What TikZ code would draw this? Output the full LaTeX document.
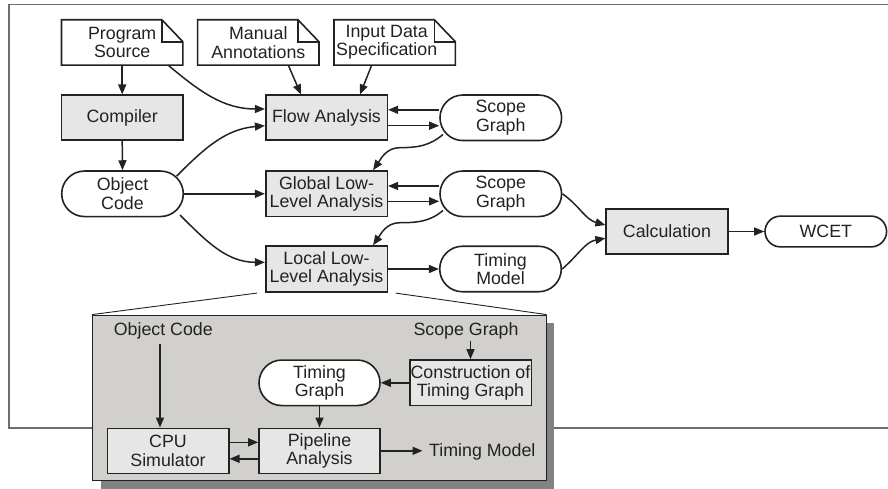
\documentclass[tikz,border=0pt]{standalone}
\usepackage{fontspec}
\setmainfont{Liberation Sans}
\usetikzlibrary{arrows.meta,calc,shapes.misc}
\definecolor{boxgray}{HTML}{E6E6E6}
\definecolor{panelgray}{HTML}{D2D0CC}
\definecolor{shadowgray}{HTML}{828282}
\definecolor{framegray}{HTML}{6E6E6E}
\definecolor{ink}{HTML}{222222}
\newcommand{\foldshape}[1]{%
  \draw[docline] (#1.north west) -- ($(#1.north east)+(-21,0)$) -- ($(#1.north east)+(0,22)$) -- (#1.south east) -- (#1.south west) -- cycle;
  \draw[docline] ($(#1.north east)+(-21,0)$) -- ($(#1.north east)+(-21,22)$) -- ($(#1.north east)+(0,22)$);}
\begin{document}
\begin{tikzpicture}[x=1pt,y=-1pt,
  font=\fontsize{17.8}{18.4}\selectfont,
  every node/.style={align=center, inner sep=0pt, text=ink},
  procbox/.style={draw=ink, line width=1.6pt, fill=boxgray, minimum width=121.6pt, minimum height=45pt},
  pill/.style={rounded rectangle, draw=ink, line width=1.6pt, fill=white, minimum width=121.6pt, minimum height=45.5pt},
  docbox/.style={minimum width=121pt, minimum height=45pt},
  docline/.style={draw=ink, line width=1.6pt, line join=miter},
  arr/.style={-{Triangle[length=10pt,width=8pt]}, line width=1.5pt, draw=ink},
  zoomline/.style={line width=0.9pt, draw=ink}
]
\useasboundingbox (0,0) rectangle (888,489);

% outer frame
\draw[framegray, line width=1.6pt] (888,4.5) -- (9,4.5) -- (9,428) -- (888,428);

% documents
\node[docbox] (ps) at (122.2,42.5) {Program\\Source};
\node[docbox] (ma) at (258.3,42.5) {Manual\\Annotations};
\node[docbox] (id) at (394.7,42.5) {};
\node (idtext) at (386.7,42.5) {Input Data\\Specification};
\foldshape{ps}
\foldshape{ma}
\foldshape{id}

% main nodes
\node[procbox] (comp) at (122.2,117.8) {Compiler};
\node[pill] (obj) at (122.5,193.8) {Object\\Code};
\node[procbox] (flow) at (326.5,117.8) {Flow Analysis};
\node[procbox, minimum height=45.7pt] (glob) at (326.5,193.8) {Global Low-\\Level Analysis};
\node[procbox, minimum height=46pt] (loc) at (326.5,269) {Local Low-\\Level Analysis};
\node[pill] (sg1) at (500.8,117.8) {Scope\\Graph};
\node[pill] (sg2) at (500.8,193.8) {Scope\\Graph};
\node[pill] (tm) at (500.5,269) {Timing\\Model};
\node[procbox] (calc) at (667,231.5) {Calculation};
\node[pill, minimum height=30.7pt] (wcet) at (825.8,231.5) {WCET};

% top connectors
\draw[arr] (ps.south) -- (comp.north);
\draw[arr] (comp.south) -- (obj.north);
\draw[arr] ($(ps.south)+(46,0)$) to[out=-40,in=180] ($(flow.west)+(0,-8.8)$);
\draw[arr] ($(ma.south)+(30,0)$) -- ($(flow.north)+(-25.5,0)$);
\draw[arr] ($(id.south)+(-23,0)$) -- ($(flow.north)+(33.5,0)$);
\draw[arr] ($(obj.center)+(54.2,-17.8)$) to[out=45,in=185] ($(flow.west)+(0,7.9)$);
\draw[arr] (obj.east) -- (glob.west);
\draw[arr] ($(obj.center)+(57.5,21.2)$) to[out=-45,in=180] ($(loc.west)+(0,-6.7)$);

\draw[arr] ($(sg1.west)+(0,-8)$) -- ($(flow.east)+(0,-8)$);
\draw[arr] ($(flow.east)+(0,7.9)$) -- ($(sg1.west)+(0,7.9)$);
\draw[arr] ($(sg2.west)+(0,-7.8)$) -- ($(glob.east)+(0,-7.8)$);
\draw[arr] ($(glob.east)+(0,7.5)$) -- ($(sg2.west)+(0,7.5)$);

\draw[arr] ($(sg1.center)+(-57.8,16.7)$) to[out=-140,in=0] ($(glob.north)+(73.5,-22.5)$) to[out=180,in=55] ($(glob.north)+(46.5,0)$);
\draw[arr] ($(sg2.center)+(-57.8,16.7)$) to[out=-140,in=0] ($(loc.north)+(73.5,-22.5)$) to[out=180,in=55] ($(loc.north)+(46.5,0)$);

\draw[arr] (loc.east) -- (tm.west);
\draw[arr] (sg2.east) to[out=-35,in=165] ($(calc.west)+(0,-6.5)$);
\draw[arr] (tm.east) to[out=40,in=190] ($(calc.west)+(0,6.8)$);
\draw[arr] (calc.east) -- (wcet.west);

% detail panel
\node[fill=shadowgray, minimum width=453.3pt, minimum height=165.7pt] (shadow) at (327.35,405.85) {};
\node[draw=ink, line width=0.9pt, fill=panelgray, minimum width=453.3pt, minimum height=165.7pt] (panel) at (319.35,397.85) {};
\draw[zoomline] ($(loc.south west)+(-8,0.3)$) -- (panel.north west);
\draw[zoomline] ($(loc.south east)+(7.7,0.3)$) -- (panel.north east);

\node (objtxt) at (163.3,330.7) {Object Code};
\node (sgtxt) at (466,330.7) {Scope Graph};
\node[procbox, minimum height=45.7pt] (cons) at (470.5,382.8) {Construction of\\Timing Graph};
\node[pill, minimum width=121pt] (tg) at (319.5,382.8) {Timing\\Graph};
\node[procbox, minimum width=121.4pt] (cpu) at (168,450.8) {CPU\\Simulator};
\node[procbox, minimum width=121pt] (pipe) at (319.5,450.8) {Pipeline\\Analysis};
\node (tmtxt) at (482.3,451.7) {Timing Model};

\draw[arr] ($(objtxt.south)+(-3.3,5)$) -- ($(cpu.north)+(-8,0)$);
\draw[arr] ($(cons.north |- sgtxt.south)+(0,2)$) -- (cons.north);
\draw[arr] (cons.west) -- (tg.east);
\draw[arr] (tg.south) -- (pipe.north);
\draw[arr] ($(cpu.east)+(0,-8.5)$) -- ($(pipe.west)+(0,-8.5)$);
\draw[arr] ($(pipe.west)+(0,8)$) -- ($(cpu.east)+(0,8)$);
\draw[arr] (pipe.east) -- ($(pipe.east -| tmtxt.west)+(-6.5,0)$);
\end{tikzpicture}
\end{document}
